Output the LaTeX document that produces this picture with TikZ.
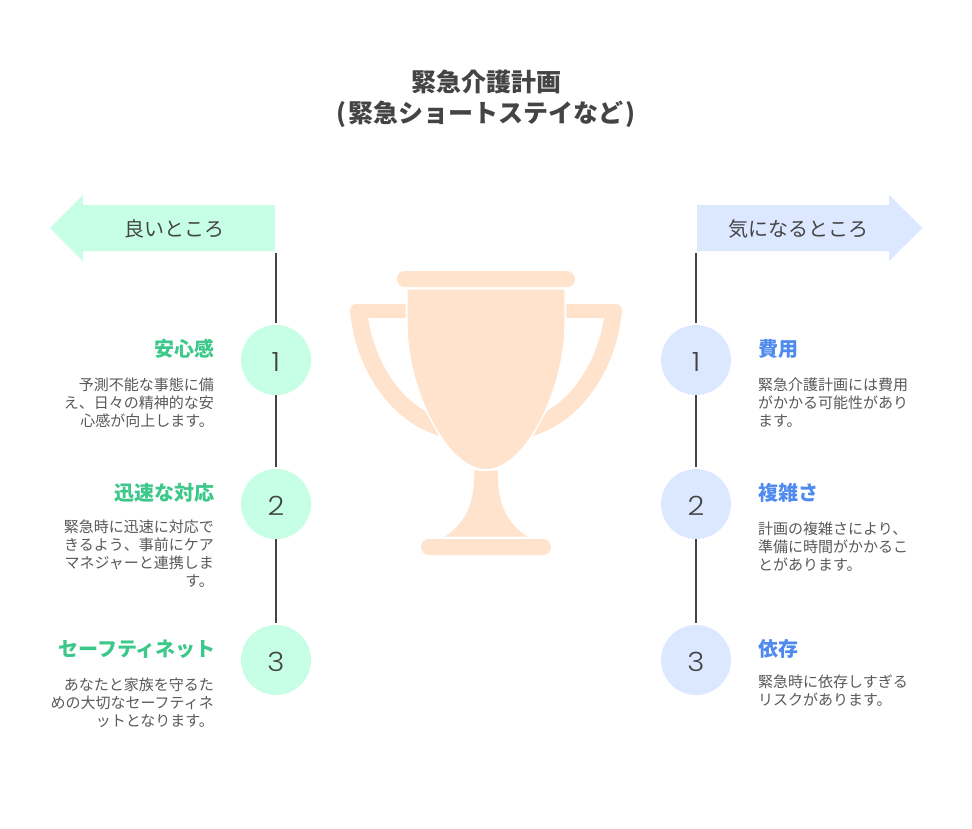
\documentclass[tikz,border=0pt]{standalone}
\usepackage{fontspec}
\setmainfont{Noto Sans CJK JP}
\newfontfamily\numfont[FakeStretch=1.1]{Poppins Light}
\definecolor{mint}{HTML}{C6FFE6}
\definecolor{sky}{HTML}{DCE8FF}
\definecolor{peach}{HTML}{FFE3CC}
\definecolor{ink}{HTML}{444444}
\definecolor{body}{HTML}{595959}
\definecolor{greenhead}{HTML}{3CC88A}
\definecolor{bluehead}{HTML}{4F8AEE}
\newcommand{\numtext}[1]{\raisebox{-11pt}[0pt][0pt]{#1}}
\tikzset{
 trophy/.style={fill=peach,draw=none},
 titletext/.style={font=\fontsize{25}{31}\selectfont\bfseries,text=ink,align=center,inner sep=0pt},
 arrowtext/.style={font=\fontsize{20}{24}\selectfont,text=ink,inner sep=0pt},
 numnode/.style={circle,minimum size=70pt,inner sep=0pt,outer sep=0pt,font=\numfont\fontsize{26.5}{26.5}\selectfont,text=ink},
 headl/.style={font=\fontsize{20}{22}\selectfont\bfseries,text=greenhead,anchor=east,inner sep=0pt},
 headr/.style={font=\fontsize{20}{22}\selectfont\bfseries,text=bluehead,anchor=west,inner sep=0pt},
 bodyl/.style={font=\fontsize{15}{18}\selectfont,text=body,anchor=east,align=right,inner sep=0pt},
 bodyr/.style={font=\fontsize{15}{18}\selectfont,text=body,anchor=west,align=left,inner sep=0pt},
 spine/.style={draw=ink,line width=1.5pt,shorten >=2pt},
}
\begin{document}
\begin{tikzpicture}[x=1pt,y=-1pt]
\useasboundingbox (0,0) rectangle (972,828);
\fill[white] (0,0) rectangle (972,828);
\node[titletext] (title) at (486,98.5) {緊急介護計画\\(\kern2pt緊急ショートステイなど\kern2pt)};
% arrows
\fill[mint] (50,228) -- (83,195) -- (83,205) -- (275,205) -- (275,251) -- (83,251) -- (83,261) -- cycle;
\fill[sky] (922.5,228) -- (889,195) -- (889,205) -- (697,205) -- (697,251) -- (889,251) -- (889,261) -- cycle;
\node[arrowtext] (goodlabel) at (174,228.5) {良いところ};
\node[arrowtext] (badlabel) at (798,228.5) {気になるところ};
% trophy
\fill[trophy,rounded corners=8pt] (397,271) rectangle (575,287);
\fill[trophy,rounded corners=8pt] (421,539) rectangle (551,555);
\foreach \s/\o in {1/0,-1/972}{
\fill[trophy,shift={(\o,0)},xscale=\s] (405.7,304) -- (356.7,304) .. controls (352,304) and (350,307) .. (350,311.7) .. controls (356,370) and (390,421) .. (439.3,436) -- (425,410.7) .. controls (396,395) and (374,357) .. (368,318) -- (405.7,318) -- cycle;
}
\fill[trophy] (474.3,470) .. controls (482,471.5) and (490,471.5) .. (497.7,470) .. controls (497.7,500) and (503,520) .. (527.3,536.7) -- (445,536.7) .. controls (469,520) and (474.3,500) .. (474.3,470) -- cycle;
\path[fill=peach,draw=white,line width=1.4pt] (407,289) -- (565,289) -- (565,325) .. controls (565,388) and (526,469.8) .. (486,469.8) .. controls (446,469.8) and (407,388) .. (407,325) -- cycle;
% circles
\node[numnode,fill=mint] (l1) at (276,360) {\numtext{1}};
\node[numnode,fill=mint] (l2) at (276,504) {\numtext{2}};
\node[numnode,fill=mint] (l3) at (276,660) {\numtext{3}};
\node[numnode,fill=sky] (r1) at (696,360) {\numtext{1}};
\node[numnode,fill=sky] (r2) at (696,504) {\numtext{2}};
\node[numnode,fill=sky] (r3) at (696,660) {\numtext{3}};
\coordinate (ltop) at (276,253);
\coordinate (rtop) at (696,253);
\draw[spine] (ltop) -- (l1);
\draw[spine] (l1) -- (l2);
\draw[spine] (l2) -- (l3);
\draw[spine] (rtop) -- (r1);
\draw[spine] (r1) -- (r2);
\draw[spine] (r2) -- (r3);
% left text
\node[headl] (lh1) at (215,349) {安心感};
\node[bodyl] (lb1) at (214,403) {予測不能な事態に備\\え、日々の精神的な安\\心感が向上します。};
\node[headl] (lh2) at (215,493) {迅速な対応};
\node[bodyl] (lb2) at (214,553.5) {緊急時に迅速に対応で\\きるよう、事前にケア\\マネジャーと連携しま\\す。};
\node[headl] (lh3) at (216,649) {セーフティネット};
\node[bodyl] (lb3) at (214,702.5) {あなたと家族を守るた\\めの大切なセーフティネ\\ットとなります。};
% right text
\node[headr] (rh1) at (758,349) {費用};
\node[bodyr] (rb1) at (758,403) {緊急介護計画には費用\\がかかる可能性があり\\ます。};
\node[headr] (rh2) at (758,493) {複雑さ};
\node[bodyr] (rb2) at (758,547) {計画の複雑さにより、\\準備に時間がかかるこ\\とがあります。};
\node[headr] (rh3) at (758,649) {依存};
\node[bodyr] (rb3) at (758,691) {緊急時に依存しすぎる\\リスクがあります。};
\end{tikzpicture}
\end{document}
